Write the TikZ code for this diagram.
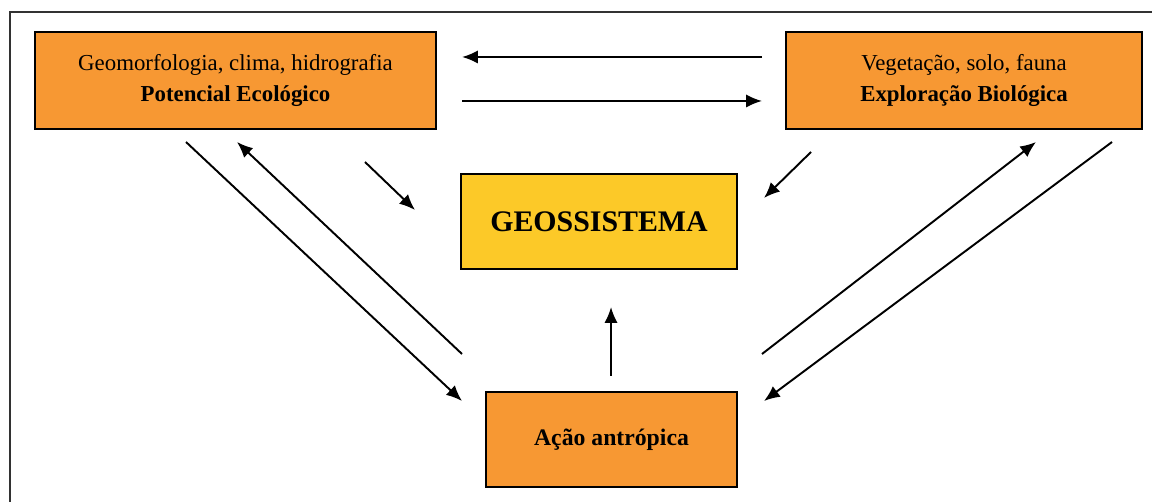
\documentclass[tikz,border=0pt]{standalone}
\usepackage{fontspec}
\setmainfont{Liberation Serif}
\usetikzlibrary{arrows.meta}
\definecolor{laranja}{RGB}{247,152,51}
\definecolor{amarelo}{RGB}{252,201,40}
\definecolor{moldura}{RGB}{50,50,50}
\tikzset{
	caixa/.style={draw=black,line width=0.9pt,fill=laranja,align=center,inner sep=0pt,font=\fontsize{13}{18}\selectfont},
	seta/.style={->,>={Latex[length=9pt,width=7.5pt]},line width=1.1pt}
}
\begin{document}
\begin{tikzpicture}[x=0.02cm,y=-0.02cm]

		\useasboundingbox (0,0) rectangle (1152,502);
		\draw[moldura,line width=1.4pt] (10,502) |- (1152,12);

		\node(pe)[caixa,minimum width=8.02cm,minimum height=1.94cm] at (235.5,80.5)
		{Geomorfologia, clima, hidrografia\\\textbf{Potencial Ecológico}};
		\node(eb)[caixa,minimum width=7.12cm,minimum height=1.94cm] at (964,80.5)
		{Vegetação, solo, fauna\\\textbf{Exploração Biológica}};
		\node(geo)[caixa,fill=amarelo,minimum width=5.52cm,minimum height=1.9cm,font=\fontsize{17}{20}\selectfont\bfseries] at (599,221.5) {GEOSSISTEMA};
		\node(aa)[caixa,minimum width=5.02cm,minimum height=1.9cm,font=\fontsize{13.5}{17}\selectfont\bfseries] at (611.5,439.5) {Ação antrópica};

		% pontas livres das setas
		\coordinate(h1a) at (762,57);   \coordinate(h1b) at (462,57);
		\coordinate(h2a) at (462,101);  \coordinate(h2b) at (762,101);
		\coordinate(l1a) at (186,142);  \coordinate(l1b) at (462,401);
		\coordinate(l2a) at (462,354);  \coordinate(l2b) at (237,142);
		\coordinate(l3a) at (365,162);  \coordinate(l3b) at (415,210);
		\coordinate(r3a) at (811,152);  \coordinate(r3b) at (764,198);
		\coordinate(r2a) at (762,354);  \coordinate(r2b) at (1036,142);
		\coordinate(r1a) at (1112,142); \coordinate(r1b) at (764,401);
		\coordinate(va) at (611,376);   \coordinate(vb) at (611,307);

		\draw[seta] (h1a) -- (h1b);
		\draw[seta] (h2a) -- (h2b);
		\draw[seta] (l1a) -- (l1b);
		\draw[seta] (l2a) -- (l2b);
		\draw[seta] (l3a) -- (l3b);
		\draw[seta] (r3a) -- (r3b);
		\draw[seta] (r2a) -- (r2b);
		\draw[seta] (r1a) -- (r1b);
		\draw[seta] (va) -- (vb);

	\end{tikzpicture}
\end{document}
